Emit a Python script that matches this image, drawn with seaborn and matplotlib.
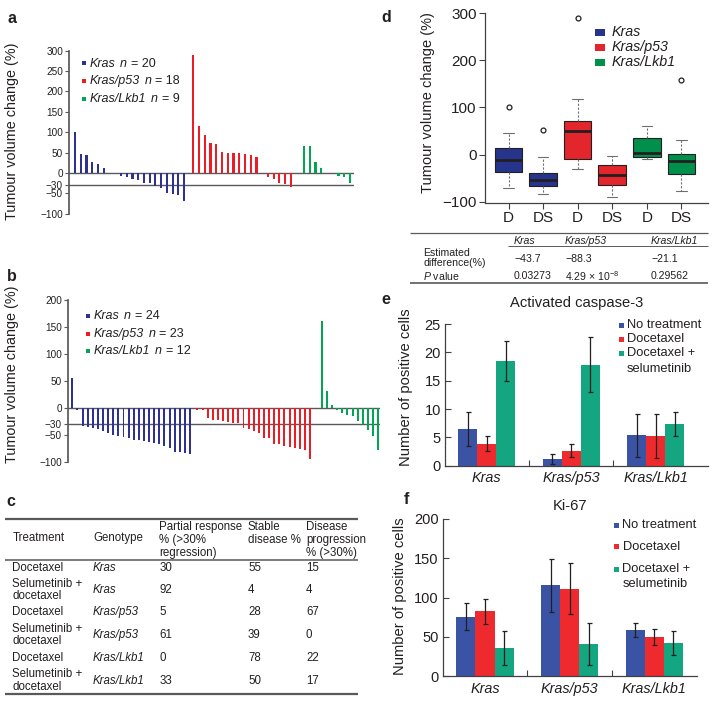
import matplotlib.pyplot as plt
from matplotlib.patches import Rectangle
import numpy as np
import pandas as pd
import seaborn as sns


W, H = 716, 703

# a: docetaxel (D), b: docetaxel + selumetinib (DS); one bar per tumour
A_KRAS = [101, 47, 43, 27, 21, 11, 0, 0, -7, -11, -15, -18, -25, -25, -31, -38, -48, -52, -53, -70]
A_P53 = [289, 116, 93, 73, 70, 52, 49, 49, 48, 47, 43, 38, -1, -10, -16, -25, -28, -34]
A_LKB1 = [65, 65, 28, 12, 0, -1, -7, -9, -25]
B_KRAS = [55, -4, -32, -34, -36, -39, -42, -46, -49, -51, -53, -55, -58, -59, -61, -62,
          -64, -67, -69, -74, -81, -81, -82, -85]
B_P53 = [-3, -4, -19, -22, -22, -23, -25, -27, -28, -36, -39, -42, -46, -56, -56, -66,
         -67, -69, -71, -73, -75, -77, -94]
B_LKB1 = [161, 31, 6, -3, -9, -13, -14, -24, -30, -40, -52, -77]
A_N = [20, 18, 9]
B_N = [24, 23, 12]
A_YTICKS = [-100, -50, -30, 0, 50, 100, 150, 200, 250, 300]
B_YTICKS = [-100, -50, -30, 0, 50, 100, 150, 200]

# d: box plot statistics
BOX_LABELS = ["D", "DS", "D", "DS", "D", "DS"]
BOX_WHISLO = [-70, -84, -30, -91, -10, -77]
BOX_Q1 = [-38, -67, -9, -65, -6, -42]
BOX_MED = [-11, -55, 50, -43, 4, -14]
BOX_Q3 = [15, -40, 71, -22, 35, 2]
BOX_WHISHI = [45, -6, 117, -3, 61, 32]
BOX_FLIERS = [[100], [53], [289], [], [], [159]]
D_YTICKS = [-100, 0, 100, 200, 300]

GENOTYPES = ["Kras", "Kras/p53", "Kras/Lkb1"]
TREATMENTS = ["No treatment", "Docetaxel", "Docetaxel + selumetinib"]

# e: activated caspase-3
CASP_NO = [6.4, 1.2, 5.35]
CASP_DOC = [3.9, 2.6, 5.2]
CASP_DS = [18.5, 17.8, 7.35]
CASP_ERR_NO = [3.0, 0.95, 3.75]
CASP_ERR_DOC = [1.35, 1.15, 3.85]
CASP_ERR_DS = [3.5, 4.85, 2.05]

# f: Ki-67
KI67_NO = [75.8, 115.7, 58.5]
KI67_DOC = [82.6, 111.4, 49.6]
KI67_DS = [36.0, 40.7, 41.9]
KI67_ERR_NO = [17.0, 34.0, 9.0]
KI67_ERR_DOC = [15.7, 32.4, 10.0]
KI67_ERR_DS = [21.9, 26.5, 15.3]

# c: response table
C_TREATMENT = ["Docetaxel", "Selumetinib +\ndocetaxel"] * 3
C_GENOTYPE = ["Kras", "Kras", "Kras/p53", "Kras/p53", "Kras/Lkb1", "Kras/Lkb1"]
C_PARTIAL = [30, 92, 5, 61, 0, 33]
C_STABLE = [55, 4, 28, 39, 78, 50]
C_PROGRESSION = [15, 4, 67, 0, 22, 17]

# d: table under the box plot
D_DIFF = ["\u221243.7", "\u221288.3", "\u221221.1"]
D_PVAL = ["0.03273", r"4.29 $\times$ 10$^{-8}$", "0.29562"]

WF_COLORS = ["#2E3192", "#ED1C24", "#00A651"]
BOX_COLORS = ["#27348B", "#27348B", "#E3262B", "#E3262B", "#00904B", "#00904B"]
BAR_COLORS = ["#3A53A4", "#EE2A2E", "#14A581"]
INK = "#231F20"
RULE = "#58595B"


def px_box(x0, y0, x1, y1):
    """Converte um retangulo em pixels (origem no topo) para coordenadas da figura."""
    return [x0 / W, 1 - y1 / H, (x1 - x0) / W, (y1 - y0) / H]


def key(over, x, y, color, w, h):
    over.add_patch(Rectangle((x - w / 2, y - h / 2), w, h, color=color, lw=0))


def draw_waterfall(ax, series, gaps, yticks, ylim, xlim, label_xy):
    start = 0.0
    for vals, color, gap in zip(series, WF_COLORS, gaps):
        pos = start + np.arange(len(vals))
        ax.bar(pos, vals, width=0.38, color=color, linewidth=0, zorder=3)
        start = pos[-1] + gap
    ax.axhline(0, color=RULE, lw=1.0, zorder=2)
    ax.axhline(-30, color=RULE, lw=1.0, zorder=2)
    ax.set_ylim(*ylim)
    ax.set_xlim(*xlim)
    ax.set_yticks(yticks)
    ax.set_xticks([])
    sns.despine(ax=ax, bottom=True)
    ax.spines["left"].set_color(RULE)
    ax.tick_params(axis="y", direction="out", length=3, width=0.8, color=RULE,
                   labelsize=7.2, labelcolor=INK, pad=1.5)
    ax.set_ylabel("Tumour volume change (%)", fontsize=10.4, color=INK)
    ax.yaxis.set_label_coords(*label_xy)


def draw_boxes(ax):
    stats = []
    for lab, lo, q1, med, q3, hi, fl in zip(BOX_LABELS, BOX_WHISLO, BOX_Q1, BOX_MED,
                                           BOX_Q3, BOX_WHISHI, BOX_FLIERS):
        stats.append({"label": lab, "whislo": lo, "q1": q1, "med": med,
                      "q3": q3, "whishi": hi, "fliers": fl})
    parts = ax.bxp(stats, positions=np.arange(len(stats)), widths=0.8,
                   patch_artist=True, capwidths=0.3,
                   boxprops={"edgecolor": INK, "linewidth": 0.8},
                   medianprops={"color": INK, "linewidth": 2.0},
                   whiskerprops={"color": "#6D6E71", "linewidth": 0.8, "linestyle": (0, (2, 1.5))},
                   capprops={"color": "#6D6E71", "linewidth": 0.8},
                   flierprops={"marker": "o", "markerfacecolor": "none",
                               "markeredgecolor": INK, "markersize": 3.5,
                               "markeredgewidth": 0.9})
    for box, color in zip(parts["boxes"], BOX_COLORS):
        box.set_facecolor(color)
    ax.set_ylim(-103, 303)
    ax.set_xlim(-0.68, 5.78)
    ax.set_yticks(D_YTICKS)
    sns.despine(ax=ax)
    ax.spines["left"].set_bounds(-100, 300)
    for side in ("left", "bottom"):
        ax.spines[side].set_color("#414042")
        ax.spines[side].set_linewidth(0.9)
    ax.tick_params(direction="out", length=4, width=0.8, color="#414042",
                   labelsize=11, labelcolor=INK, pad=2)
    ax.set_ylabel("Tumour volume change (%)", fontsize=10.5, color=INK)
    ax.yaxis.set_label_coords(-0.226, 0.5235)


def bar_frame(means, errs):
    rows = []
    for treatment, m_list, e_list in zip(TREATMENTS, means, errs):
        for genotype, m, e in zip(GENOTYPES, m_list, e_list):
            rows.append({"genotype": genotype, "treatment": treatment, "mean": m, "err": e})
    return pd.DataFrame(rows)


def draw_counts(ax, df, ylim, yticks, xlim, title, title_y, label_xy):
    sns.barplot(data=df, x="genotype", y="mean", hue="treatment", order=GENOTYPES,
                hue_order=TREATMENTS, palette=BAR_COLORS, width=0.675, gap=0,
                errorbar=None, saturation=1, linewidth=0, legend=False, ax=ax)
    for patch, err in zip(ax.patches, df["err"]):
        xc = patch.get_x() + patch.get_width() / 2
        ax.errorbar(xc, patch.get_height(), yerr=err, fmt="none", ecolor=INK,
                    elinewidth=0.9, capsize=1.8, capthick=0.9, zorder=4)
    ax.set_ylim(*ylim)
    ax.set_xlim(*xlim)
    ax.set_yticks(yticks)
    ax.set_xticks(range(len(GENOTYPES)))
    ax.set_xticklabels(GENOTYPES, fontstyle="italic", fontsize=10.4, color=INK)
    ax.set_xticks([0.5, 1.5], minor=True)
    sns.despine(ax=ax)
    for side in ("left", "bottom"):
        ax.spines[side].set_color("#414042")
        ax.spines[side].set_linewidth(0.9)
    ax.tick_params(axis="x", which="major", length=0, pad=4)
    ax.tick_params(axis="x", which="minor", direction="in", length=4, width=0.8, color="#414042")
    ax.tick_params(axis="y", direction="in", length=4, width=0.8, color="#414042",
                   labelsize=10.5, labelcolor=INK, pad=3)
    ax.set_xlabel("")
    ax.set_ylabel("Number of positive cells", fontsize=10.6, color=INK)
    ax.yaxis.set_label_coords(*label_xy)
    ax.set_title(title, fontsize=10.6, color=INK, y=title_y, pad=0, va="center")


def draw_table_c(over):
    over.hlines(519.3, 5, 358, color=RULE, lw=1.6)
    over.hlines(560.3, 5, 358, color=RULE, lw=1.1)
    over.hlines(694.3, 5, 358, color=RULE, lw=1.6)
    kw = {"fontsize": 8.3, "color": INK, "va": "center", "ha": "left", "linespacing": 1.1}
    over.text(12.3, 538.3, "Treatment", **kw)
    over.text(93, 538.3, "Genotype", **kw)
    over.text(159.3, 540, "Partial response\n% (>30%\nregression)", **kw)
    over.text(248, 533.7, "Stable\ndisease %", **kw)
    over.text(306, 540, "Disease\nprogression\n% (>30%)", **kw)
    rows_y = [567.7, 590, 612, 635, 658, 680.5]
    for y, tr, gen, p, s, d in zip(rows_y, C_TREATMENT, C_GENOTYPE, C_PARTIAL,
                                  C_STABLE, C_PROGRESSION):
        over.text(12.3, y, tr, **kw)
        over.text(93, y, gen, fontstyle="italic", **kw)
        over.text(159.3, y, str(p), **kw)
        over.text(248, y, str(s), **kw)
        over.text(306, y, str(d), **kw)


def draw_table_d(over):
    over.hlines(233.3, 410, 708.3, color=RULE, lw=0.9)
    over.hlines(245.7, 508, 708.3, color=RULE, lw=0.7)
    over.hlines(283.3, 410, 708.3, color=RULE, lw=1.2)
    kw = {"fontsize": 7.6, "color": INK, "va": "center", "ha": "left", "linespacing": 1.0}
    cols_x = [514, 565, 651]
    for x, gen in zip(cols_x, GENOTYPES):
        over.text(x, 240.5, gen, fontstyle="italic", **kw)
    over.text(423.3, 258.5, "Estimated\ndifference(%)", **kw)
    over.text(423.3, 276, r"$\mathit{P}$ value", **kw)
    for x, diff, pval in zip(cols_x, D_DIFF, D_PVAL):
        over.text(x, 259, diff, **kw)
        over.text(x, 276, pval, **kw)


def genotype_key(over, x, y, gen, n):
    """Genotipo em italico, 'n' em italico e '= n' em texto normal, na mesma linha de base."""
    kw = {"fontsize": 9, "color": INK, "va": "baseline", "ha": "left"}
    t1 = over.text(x, y, gen, fontstyle="italic", **kw)
    t2 = over.annotate("n", xy=(1, y), xycoords=(t1, "data"), xytext=(3.2, 0),
                       textcoords="offset points", fontstyle="italic", **kw)
    over.annotate(f"= {n}", xy=(1, y), xycoords=(t2, "data"), xytext=(2.6, 0),
                  textcoords="offset points", **kw)


def draw_keys(over):
    # a and b
    for y0, step, xk, ns in ((63.3, 17.8, 84, A_N), (316, 17.5, 88, B_N)):
        for i, (gen, n, color) in enumerate(zip(GENOTYPES, ns, WF_COLORS)):
            y = y0 + i * step
            key(over, xk, y, color, 4, 4)
            genotype_key(over, xk + 6, y + 3.3, gen, n)
    # d
    for gen, y, color in zip(GENOTYPES, [32.5, 47, 62], BOX_COLORS[::2]):
        key(over, 600, y, color, 10, 7)
        over.text(611.7, y, gen, fontstyle="italic", fontsize=10.3, color=INK,
                  va="center", ha="left")
    # e and f
    labels = ["No treatment", "Docetaxel", "Docetaxel +", "selumetinib"]
    for ys, xk in (([325, 339, 353.3, 369], 621), ([525, 546.7, 569.3, 584.3], 616.7)):
        for j, (lab, y) in enumerate(zip(labels, ys)):
            if j < 3:
                key(over, xk, y, BAR_COLORS[j], 5, 5)
            over.text(xk + 5.8, y, lab, fontsize=9.3, color=INK, va="center", ha="left")


def main():
    sns.set_theme(style="ticks")
    plt.rcParams["font.family"] = ["Liberation Sans", "DejaVu Sans"]
    plt.rcParams["mathtext.fontset"] = "custom"
    plt.rcParams["mathtext.rm"] = "Liberation Sans"
    plt.rcParams["mathtext.it"] = "Liberation Sans:italic"

    fig = plt.figure(figsize=(W / 100, H / 100), dpi=100, facecolor="white")

    ax_a = fig.add_axes(px_box(69.3, 50.7, 354, 213.7))
    draw_waterfall(ax_a, [A_KRAS, A_P53, A_LKB1], [1.6, 2.3, 0], A_YTICKS,
                   (-100, 300), (-1.0, 48.6), (-0.175, 0.507))

    ax_b = fig.add_axes(px_box(68.3, 300, 380, 462.3))
    draw_waterfall(ax_b, [B_KRAS, B_P53, B_LKB1], [1.44, 2.3, 0], B_YTICKS,
                   (-100, 200), (-0.78, 60.1), (-0.157, 0.544))

    ax_d = fig.add_axes(px_box(485, 11.9, 708.3, 203.1))
    draw_boxes(ax_d)

    ax_e = fig.add_axes(px_box(445, 324, 708, 465.7))
    casp = bar_frame([CASP_NO, CASP_DOC, CASP_DS], [CASP_ERR_NO, CASP_ERR_DOC, CASP_ERR_DS])
    draw_counts(ax_e, casp, (0, 25), [0, 5, 10, 15, 20, 25], (-0.494, 2.619),
                "Activated caspase-3", 1.15, (-0.12, 0.552))

    ax_f = fig.add_axes(px_box(442.7, 519, 697.3, 676.3))
    ki67 = bar_frame([KI67_NO, KI67_DOC, KI67_DS], [KI67_ERR_NO, KI67_ERR_DOC, KI67_ERR_DS])
    draw_counts(ax_f, ki67, (0, 200), [0, 50, 100, 150, 200], (-0.5, 2.508),
                "Ki-67", 1.083, (-0.14, 0.507))

    # camada em pixels para tabelas, legendas e letras dos paineis
    over = fig.add_axes([0, 0, 1, 1], zorder=10)
    over.set_xlim(0, W)
    over.set_ylim(H, 0)
    over.axis("off")

    draw_table_c(over)
    draw_table_d(over)
    draw_keys(over)

    for letter, x, y in (("a", 12, 18.5), ("b", 11.5, 276.5), ("c", 11, 502),
                         ("d", 386.7, 18), ("e", 386, 300), ("f", 406.5, 499)):
        over.text(x, y, letter, fontsize=11.5, fontweight="bold", color=INK,
                  ha="center", va="center")

    fig.savefig("out.png", dpi=100)
    plt.close(fig)


if __name__ == "__main__":
    main()
